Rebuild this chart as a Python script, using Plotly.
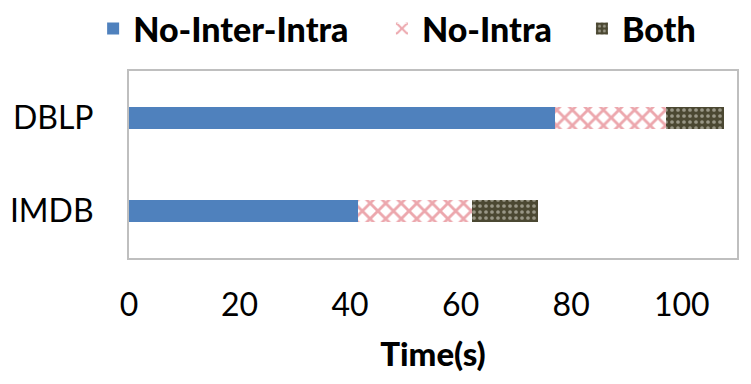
import plotly.graph_objects as go

categories = ["IMDB", "DBLP"]
series_names = ["No-Inter-Intra", "No-Intra", "Both"]
no_inter_intra = [41.5, 77.1]
no_intra = [20.5, 20.1]
both = [12.0, 10.4]
x_ticks = [0, 20, 40, 60, 80, 100]

FONT = "Lato, Liberation Sans, Arial, sans-serif"

fig = go.Figure()
fig.add_trace(go.Bar(
    y=categories, x=no_inter_intra, orientation="h", name=series_names[0],
    marker=dict(color="#4f81bd", line=dict(width=0)), legend="legend"))
fig.add_trace(go.Bar(
    y=categories, x=no_intra, orientation="h", name=series_names[1],
    marker=dict(color="white", line=dict(width=0),
                pattern=dict(shape="x", fgcolor="#d94f5c", bgcolor="white",
                             size=11, solidity=0.45)),
    legend="legend2"))
fig.add_trace(go.Bar(
    y=categories, x=both, orientation="h", name=series_names[2],
    marker=dict(color="#4b4832", line=dict(width=0),
                pattern=dict(shape=".", fgcolor="#e8e6dc", bgcolor="#4b4832",
                             size=6, solidity=0.3)),
    legend="legend3"))

leg_common = dict(orientation="h", yanchor="middle", y=1.225, xanchor="left",
                  bgcolor="rgba(0,0,0,0)", borderwidth=0,
                  font=dict(family=FONT, size=34, color="black", weight=900))

fig.update_layout(
    width=751, height=384,
    margin=dict(l=129, r=14, t=71, b=126, autoexpand=False),
    paper_bgcolor="white", plot_bgcolor="white",
    barmode="stack", bargap=0.76,
    showlegend=True,
    legend=dict(x=-0.059, **leg_common),
    legend2=dict(x=0.416, **leg_common),
    legend3=dict(x=0.745, **leg_common),
    xaxis=dict(range=[0, 110], tickvals=x_ticks, ticks="", showgrid=False,
               zeroline=False, showline=True, mirror=True, linecolor="#bfbfbf",
               linewidth=2, ticklabelstandoff=18,
               tickfont=dict(family=FONT, size=32, color="black"),
               title=dict(text="Time(s)", standoff=20,
                          font=dict(family=FONT, size=33, color="black", weight=900))),
    yaxis=dict(categoryorder="array", categoryarray=categories, ticks="",
               showgrid=False, zeroline=False, showline=True, mirror=True,
               linecolor="#bfbfbf", linewidth=2, ticklabelstandoff=27,
               tickfont=dict(family=FONT, size=32, color="black")),
)

fig.write_html("out.html")
